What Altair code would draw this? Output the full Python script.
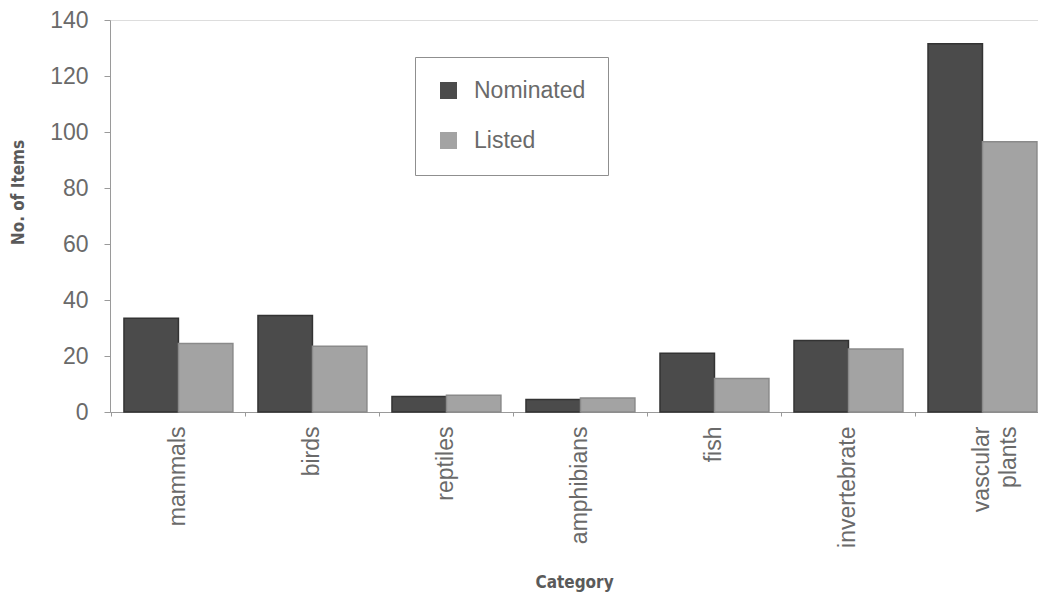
import altair as alt
import pandas as pd

categories = ["mammals", "birds", "reptiles", "amphibians", "fish", "invertebrate", "vascular plants"]
nominated = [33.5, 34.5, 5.5, 4.5, 21, 25.5, 131.5]
listed = [24.5, 23.5, 6, 5, 12, 22.5, 96.5]
series = ["Nominated", "Listed"]
y_ticks = [0, 20, 40, 60, 80, 100, 120, 140]

rows = []
for c, n, l in zip(categories, nominated, listed):
    rows.append({"Category": c, "Status": "Nominated", "Value": n})
    rows.append({"Category": c, "Status": "Listed", "Value": l})
df = pd.DataFrame(rows)

label_font = "Liberation Sans"
title_font = "Liberation Sans Narrow, DejaVu Sans Condensed, Liberation Sans"

chart = alt.Chart(df).mark_bar(strokeWidth=1.5).encode(
    x=alt.X(
        "Category:N",
        sort=categories,
        scale=alt.Scale(paddingInner=0.187, paddingOuter=0.056, align=0.93),
        axis=alt.Axis(
            title="Category",
            labelAngle=-90,
            labelFontSize=23,
            labelFont=label_font,
            labelColor="#6a6a6a",
            labelPadding=10,
            labelExpr="split(datum.label, ' ')",
            labelLineHeight=27,
            ticks=True,
            tickSize=4,
            tickColor="#999999",
            bandPosition=-0.115,
            domainColor="#9a9a9a",
            domainWidth=1,
            titleFont=title_font,
            titleFontSize=17,
            titleFontWeight="bold",
            titleColor="#5a5a5a",
            titleY=170,
            titleBaseline="middle",
        ),
    ),
    xOffset=alt.XOffset("Status:N", sort=series, scale=alt.Scale(paddingInner=0, paddingOuter=0)),
    y=alt.Y(
        "Value:Q",
        scale=alt.Scale(domain=[0, 140], nice=False),
        axis=alt.Axis(
            title="No. of Items",
            values=y_ticks,
            grid=False,
            labelFontSize=23,
            labelFont=label_font,
            labelColor="#6a6a6a",
            labelPadding=16,
            tickSize=6,
            tickColor="#9a9a9a",
            domainColor="#9a9a9a",
            domainWidth=1,
            titleFont=title_font,
            titleFontSize=17,
            titleFontWeight="bold",
            titleColor="#5a5a5a",
            titleX=-92,
            titleY=172,
            titleAlign="center",
            titleBaseline="middle",
        ),
    ),
    fill=alt.Fill(
        "Status:N",
        sort=series,
        scale=alt.Scale(domain=series, range=["#4b4b4b", "#a3a3a3"]),
        legend=alt.Legend(
            title=None,
            orient="none",
            legendX=305,
            legendY=37,
            padding=22,
            rowPadding=26,
            symbolType="square",
            symbolSize=289,
            symbolStrokeWidth=0,
            labelOffset=14,
            labelFontSize=23,
            labelFont=label_font,
            labelColor="#6a6a6a",
            strokeColor="#8f8f8f",
            fillColor="white",
        ),
    ),
    stroke=alt.Stroke(
        "Status:N",
        sort=series,
        scale=alt.Scale(domain=series, range=["#333333", "#8a8a8a"]),
        legend=None,
    ),
).properties(
    width=928,
    height=392,
    autosize=alt.AutoSizeParams(type="none"),
    padding={"left": 102, "top": 12, "right": 0, "bottom": 180},
).configure_view(stroke=None).configure(background="white")

chart.save("out.html", embed_options={"renderer": "svg", "actions": False})
